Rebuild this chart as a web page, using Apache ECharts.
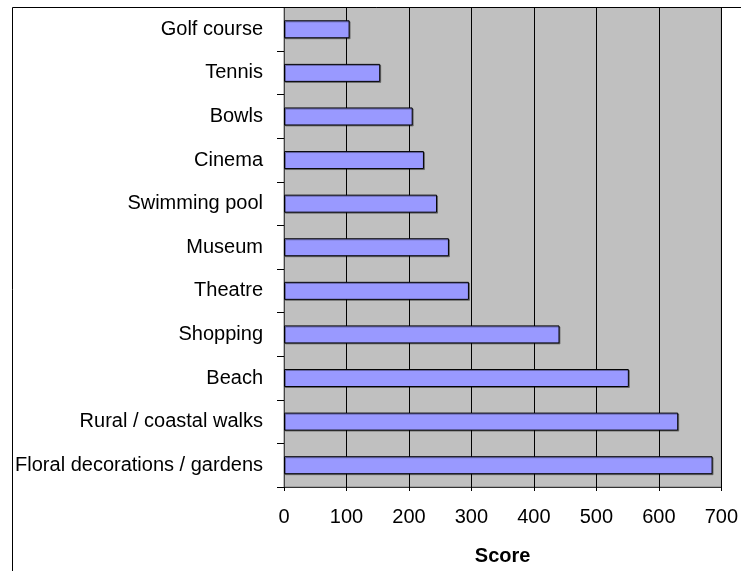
<!DOCTYPE html>
<html>
<head>
<meta charset="utf-8">
<script src="https://cdn.jsdelivr.net/npm/echarts@6/dist/echarts.min.js"></script>
<style>html,body{margin:0;padding:0;background:#fff}#c{width:741px;height:571px}</style>
</head>
<body>
<div id="c"></div>
<script>
const categories = ["Golf course","Tennis","Bowls","Cinema","Swimming pool","Museum","Theatre","Shopping","Beach","Rural / coastal walks","Floral decorations / gardens"];
const scores = [105,154,206,224,245,264,296,441,552,631,686];
const xTicks = [0,100,200,300,400,500,600,700];

const chart = echarts.init(document.getElementById('c'), null, {renderer:'canvas'});
const font = 'Liberation Sans, Arial, sans-serif';
chart.setOption({
  animation:false,
  backgroundColor:'#fff',
  grid:{left:284,right:17,top:7.5,bottom:82,show:true,backgroundColor:'#c0c0c0',borderColor:'#808080',borderWidth:1},
  xAxis:{
    type:'value',min:xTicks[0],max:xTicks[xTicks.length-1],interval:100,
    name:'Score',nameLocation:'middle',nameGap:59,
    nameTextStyle:{fontFamily:font,fontSize:20,fontWeight:'bold',color:'#000'},
    axisLine:{show:true,lineStyle:{color:'#333',width:1}},
    axisTick:{show:true,length:4,lineStyle:{color:'#000'}},
    axisLabel:{fontFamily:font,fontSize:20,color:'#000',margin:20},
    splitLine:{show:true,lineStyle:{color:'#000',width:1}}
  },
  yAxis:{
    type:'category',data:categories,inverse:true,
    axisLine:{show:true,lineStyle:{color:'#444',width:1}},
    axisTick:{show:true,length:7,lineStyle:{color:'#000'}},
    axisLabel:{fontFamily:font,fontSize:20,color:'#000',margin:21},
    splitLine:{show:false}
  },
  series:[{
    type:'bar',data:scores,barWidth:18,
    itemStyle:{color:'#9999ff',borderColor:'#000',borderWidth:1,shadowColor:'rgba(0,0,0,0.35)',shadowOffsetX:1,shadowOffsetY:1}
  }],
  graphic:[{
    type:'polyline',silent:true,z:100,
    shape:{points:[[12.5,571],[12.5,7.5],[741,7.5]]},
    style:{stroke:'#000',lineWidth:1,fill:null}
  }]
});
</script>
</body>
</html>
